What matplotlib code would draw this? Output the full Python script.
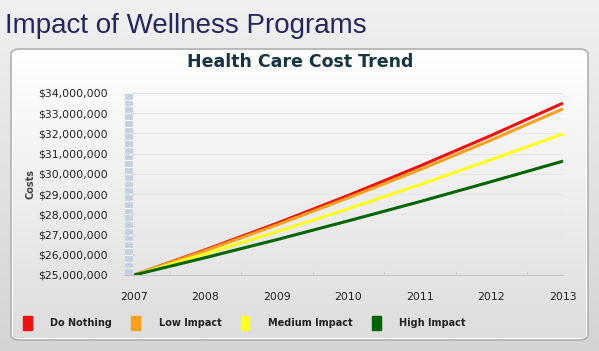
import numpy as np
import matplotlib
matplotlib.use('Agg')
import matplotlib.pyplot as plt
from matplotlib.patches import FancyBboxPatch, Rectangle, Patch
from matplotlib.ticker import FuncFormatter

years = [2007, 2008, 2009, 2010, 2011, 2012, 2013]
series_names = ['Do Nothing', 'Low Impact', 'Medium Impact', 'High Impact']
do_nothing = [25.00, 26.25, 27.56, 28.94, 30.39, 31.91, 33.50]
low_impact = [25.00, 26.21, 27.48, 28.82, 30.21, 31.68, 33.22]
medium_impact = [25.00, 26.05, 27.14, 28.28, 29.47, 30.71, 31.98]
high_impact = [25.00, 25.86, 26.75, 27.68, 28.63, 29.62, 30.63]
colors = ['#ee1111', '#ff9f1a', '#ffff1a', '#006400']
y_ticks = [25, 26, 27, 28, 29, 30, 31, 32, 33, 34]

W, H = 599, 351
fig = plt.figure(figsize=(W / 100, H / 100), dpi=100)

def box(x0, y0, x1, y1):
    # pixel box (top-left origin) -> figure rect
    return [x0 / W, 1 - y1 / H, (x1 - x0) / W, (y1 - y0) / H]

# grey page background
bg = fig.add_axes([0, 0, 1, 1])
grad = np.linspace(0, 1, 256).reshape(-1, 1)
bg.imshow(grad, extent=[0, 1, 0, 1], aspect='auto',
          cmap=matplotlib.colors.LinearSegmentedColormap.from_list('g', ['#f0f0f0', '#d4d4d4']), origin='upper')
bg.set_xlim(0, 1)
bg.set_ylim(0, 1)
bg.axis('off')

# white panel
panel = FancyBboxPatch((11 / W, 1 - 340 / H), (588 - 11) / W, (340 - 49) / H,
                       boxstyle='round,pad=0,rounding_size=0.015',
                       transform=fig.transFigure, facecolor='#fdfdfd',
                       edgecolor='#b0b0b0', linewidth=1.2, zorder=1)
bg.add_patch(panel)
pgrad = fig.add_axes(box(13, 51, 586, 338))
pgrad.imshow(grad, extent=[0, 1, 0, 1], aspect='auto',
             cmap=matplotlib.colors.LinearSegmentedColormap.from_list('p', ['#ffffff', '#dddddd']), origin='upper')
pgrad.axis('off')

fig.text(5 / W, 1 - 26 / H, 'Impact of Wellness Programs', fontsize=20,
         family='Liberation Sans', color='#26265e', va='center', ha='left')
fig.text(300 / W, 1 - 62 / H, 'Health Care Cost Trend', fontsize=12.5,
         fontweight='bold', color='#16343f', va='center', ha='center')

ax = fig.add_axes(box(134, 93, 563, 275))
ax.patch.set_alpha(0)
for vals, c, name in zip([do_nothing, low_impact, medium_impact, high_impact], colors, series_names):
    ax.plot(years, vals, color=c, lw=2.2, label=name, solid_capstyle='butt', zorder=3)

ax.set_xlim(years[0], years[-1])
ax.set_ylim(y_ticks[0], y_ticks[-1])
ax.set_yticks(y_ticks)
ax.yaxis.set_major_formatter(FuncFormatter(lambda v, p: '${:,.0f}'.format(v * 1e6)))
ax.set_xticks(years)
ax.set_xticks([y + 0.5 for y in years[:-1]], minor=True)
ax.grid(axis='y', color='#e6e6e6', lw=0.8)
for s in ['top', 'right', 'left']:
    ax.spines[s].set_visible(False)
ax.spines['bottom'].set_color('#c8c8c8')
ax.tick_params(axis='y', length=7, color='#c0c0c0', labelsize=7.8, labelcolor='#222222', pad=12)
ax.tick_params(axis='x', length=0, labelsize=7.8, labelcolor='#222222', pad=12)
ax.tick_params(axis='x', which='minor', length=3, color='#d0d0d0', direction='in')
ax.set_ylabel('Costs', fontsize=7, fontweight='bold', color='#444444', labelpad=2)

# striped blue wall at left of the plot
wall = fig.add_axes(box(125, 93, 133, 275))
wall.set_xlim(0, 1)
wall.set_ylim(y_ticks[0], y_ticks[-1])
wall.add_patch(Rectangle((0, y_ticks[0]), 1, y_ticks[-1] - y_ticks[0], facecolor='#c3d2e3', edgecolor='none'))
for yy in np.arange(y_ticks[0], y_ticks[-1], 0.3333):
    wall.axhline(yy, color='white', lw=0.8)
wall.axis('off')

handles = [Patch(facecolor=c, edgecolor=c) for c in colors]
fig.legend(handles, series_names, loc='center left', bbox_to_anchor=(14 / W, 1 - 323 / H),
           ncol=4, frameon=False, prop={'size': 7, 'weight': 'bold'},
           handletextpad=1.9, columnspacing=2.0, handlelength=0.9, handleheight=1.7,
           labelcolor='#222222')

fig.savefig('out.png', dpi=100)
